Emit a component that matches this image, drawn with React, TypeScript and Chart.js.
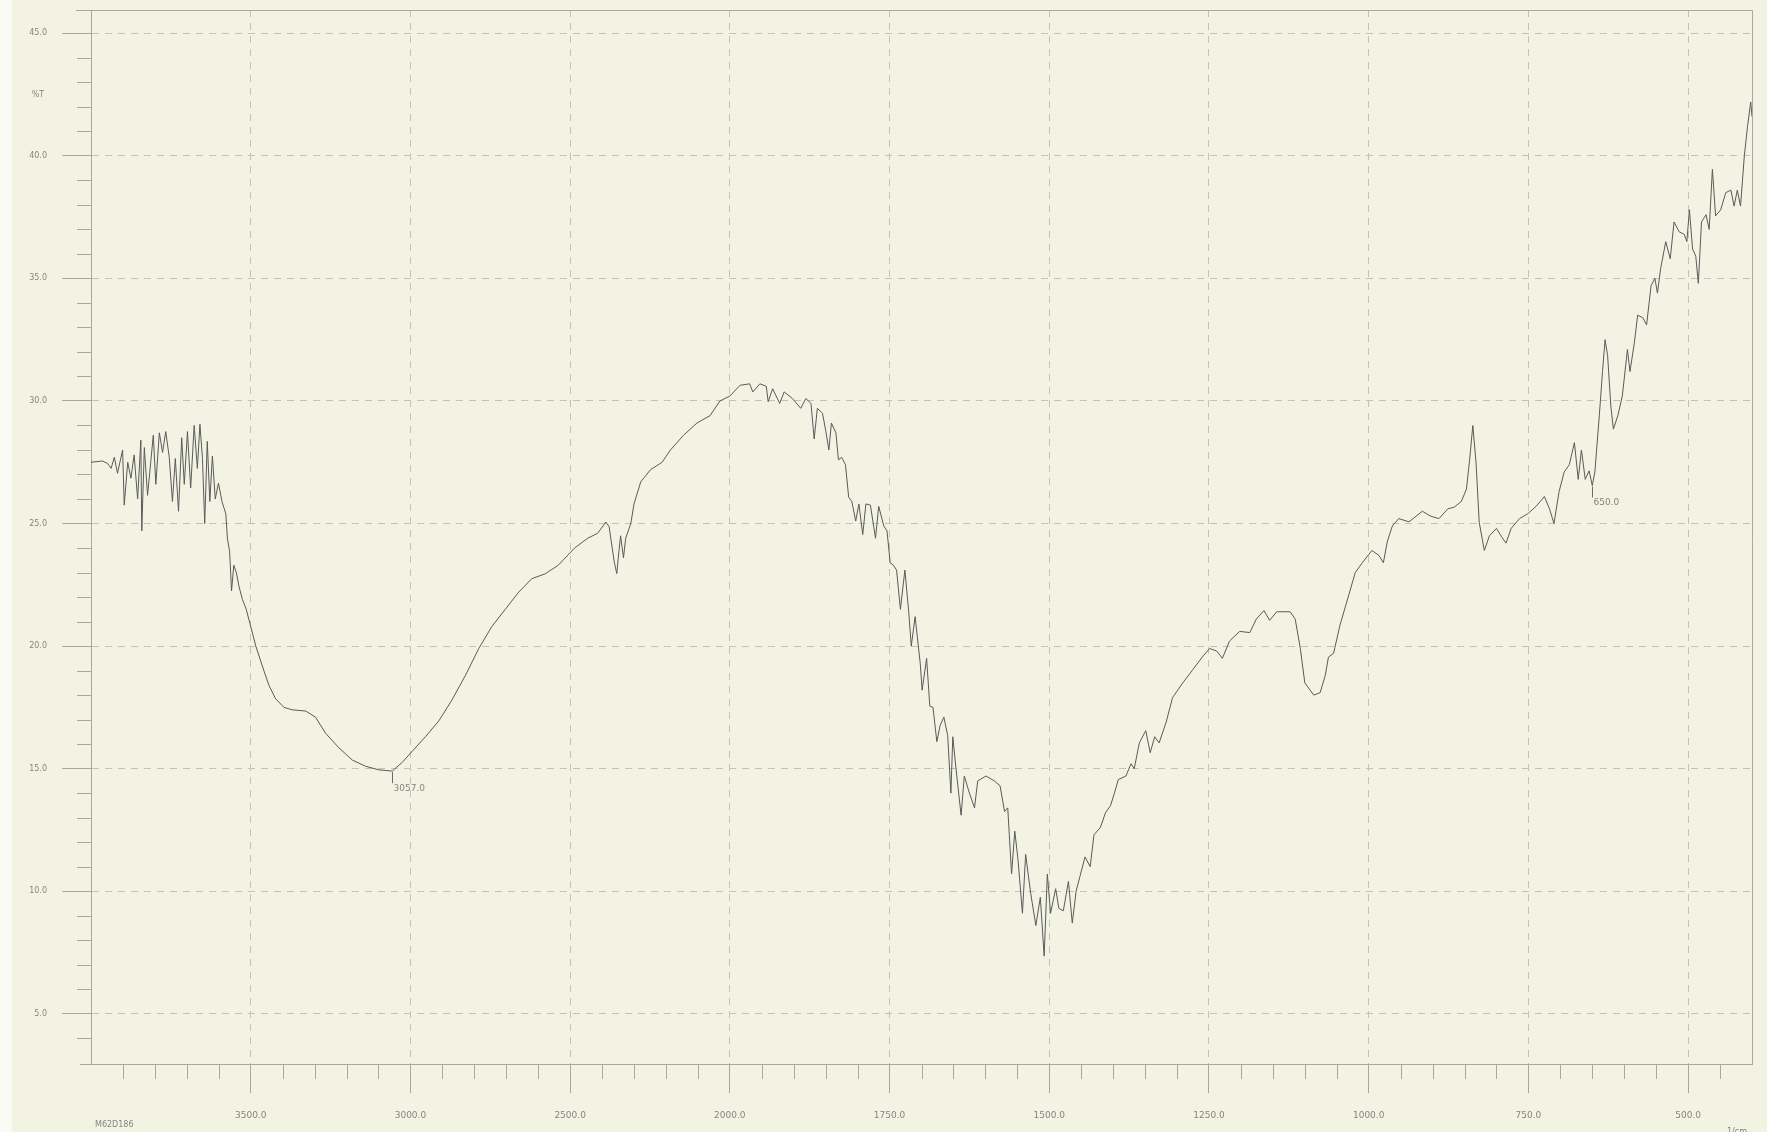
import React, { useEffect, useRef } from 'react';
import { Chart, LinearScale, LineController, LineElement, PointElement } from 'chart.js';

// ---- Data (wavenumber in 1/cm, transmittance in %T) ----
const WAVENUMBERS = [
  4000, 3964, 3948, 3937, 3927, 3917, 3901, 3896, 3885, 3875, 3865, 3854, 3844, 3841, 3833, 3823, 3813, 3805,
  3797, 3786, 3776, 3766, 3755, 3745, 3736, 3726, 3716, 3708, 3698, 3688, 3677, 3667, 3659, 3651, 3644, 3636,
  3628, 3620, 3611, 3601, 3590, 3578, 3573, 3566, 3560, 3553, 3545, 3537, 3526, 3514, 3500, 3484, 3464, 3443,
  3422, 3396, 3370, 3328, 3297, 3266, 3224, 3182, 3141, 3099, 3057, 3026, 2995, 2953, 2911, 2870, 2828, 2786,
  2745, 2703, 2661, 2620, 2578, 2537, 2486, 2445, 2414, 2388, 2378, 2362, 2354, 2347, 2342, 2333, 2326, 2310,
  2300, 2279, 2248, 2212, 2186, 2145, 2103, 2062, 2031, 2000, 1984, 1969, 1964, 1953, 1943, 1940, 1933, 1922,
  1915, 1902, 1889, 1881, 1873, 1868, 1863, 1855, 1850, 1845, 1841, 1834, 1830, 1825, 1819, 1814, 1809, 1803,
  1798, 1792, 1787, 1780, 1772, 1767, 1759, 1754, 1749, 1744, 1739, 1733, 1726, 1720, 1716, 1710, 1702, 1699,
  1692, 1687, 1682, 1676, 1671, 1665, 1659, 1654, 1651, 1646, 1638, 1633, 1625, 1617, 1612, 1599, 1586, 1577,
  1570, 1565, 1559, 1554, 1549, 1542, 1537, 1529, 1521, 1514, 1508, 1503, 1498, 1490, 1485, 1478, 1470, 1464,
  1458, 1452, 1444, 1436, 1430, 1420, 1412, 1404, 1398, 1392, 1380, 1372, 1367, 1359, 1349, 1342, 1335, 1328,
  1317, 1307, 1291, 1275, 1259, 1249, 1238, 1229, 1218, 1202, 1186, 1176, 1164, 1155, 1144, 1123, 1115, 1107,
  1100, 1086, 1076, 1068, 1063, 1055, 1045, 1031, 1021, 1010, 995, 984, 977, 971, 963, 953, 937, 916,
  903, 890, 876, 866, 855, 847, 842, 837, 832, 827, 819, 811, 800, 793, 785, 777, 764, 751,
  738, 725, 717, 710, 702, 694, 686, 678, 672, 667, 661, 655, 650, 646, 639, 634, 630, 626,
  621, 617, 610, 603, 595, 591, 584, 579, 571, 565, 558, 552, 548, 543, 535, 528, 522, 514,
  506, 502, 498, 493, 488, 484, 479, 472, 467, 462, 457, 449, 441, 433, 428, 423, 418, 412,
  407, 402, 400,
];
const TRANSMITTANCE = [
  27.5, 27.55, 27.45, 27.25, 27.7, 27.05, 28.0, 25.75, 27.5, 26.85, 27.8, 26.0, 28.4, 24.7, 28.1, 26.15, 27.5, 28.6,
  26.6, 28.7, 27.9, 28.75, 27.7, 25.9, 27.65, 25.5, 28.5, 26.6, 28.75, 26.45, 29.0, 27.25, 29.05, 27.65, 25.0, 28.35,
  25.9, 27.75, 26.0, 26.65, 25.9, 25.4, 24.4, 23.85, 22.25, 23.3, 23.0, 22.45, 21.9, 21.5, 20.8, 20.0, 19.2, 18.4,
  17.85, 17.5, 17.4, 17.35, 17.1, 16.45, 15.85, 15.35, 15.1, 14.95, 14.9, 15.25, 15.7, 16.3, 16.95, 17.8, 18.8, 19.9,
  20.8, 21.5, 22.2, 22.75, 22.95, 23.3, 24.0, 24.4, 24.6, 25.06, 24.87, 23.44, 22.96, 23.9, 24.5, 23.6, 24.4, 25.0,
  25.8, 26.7, 27.2, 27.5, 28.0, 28.6, 29.1, 29.4, 30.0, 30.2, 30.64, 30.7, 30.37, 30.7, 30.6, 29.97, 30.5, 29.9,
  30.37, 30.1, 29.7, 30.1, 29.9, 28.45, 29.7, 29.5, 28.8, 28.0, 29.1, 28.7, 27.6, 27.7, 27.4, 26.07, 25.9, 25.1,
  25.8, 24.55, 25.8, 25.75, 24.4, 25.7, 24.9, 24.7, 23.4, 23.3, 23.1, 21.5, 23.1, 21.4, 20.0, 21.2, 19.3, 18.2,
  19.5, 17.55, 17.5, 16.1, 16.75, 17.1, 16.35, 14.0, 16.3, 15.0, 13.1, 14.7, 14.0, 13.4, 14.5, 14.7, 14.5, 14.3,
  13.25, 13.4, 10.7, 12.45, 11.3, 9.1, 11.5, 9.9, 8.6, 9.75, 7.35, 10.7, 9.1, 10.1, 9.3, 9.2, 10.4, 8.7,
  10.0, 10.6, 11.4, 11.0, 12.3, 12.6, 13.2, 13.5, 14.0, 14.55, 14.7, 15.2, 15.0, 16.05, 16.55, 15.65, 16.3, 16.05,
  16.9, 17.9, 18.5, 19.05, 19.6, 19.9, 19.8, 19.5, 20.2, 20.6, 20.55, 21.1, 21.45, 21.05, 21.4, 21.4, 21.1, 19.9,
  18.5, 18.0, 18.1, 18.8, 19.55, 19.7, 20.85, 22.1, 23.0, 23.4, 23.9, 23.7, 23.4, 24.25, 24.9, 25.2, 25.07, 25.5,
  25.3, 25.2, 25.6, 25.67, 25.9, 26.4, 27.6, 29.0, 27.5, 25.05, 23.9, 24.5, 24.8, 24.5, 24.2, 24.8, 25.2, 25.4,
  25.7, 26.1, 25.6, 25.0, 26.3, 27.1, 27.4, 28.3, 26.8, 28.0, 26.8, 27.15, 26.55, 27.1, 29.4, 31.2, 32.5, 31.85,
  29.8, 28.85, 29.4, 30.2, 32.1, 31.2, 32.4, 33.5, 33.4, 33.1, 34.7, 35.0, 34.4, 35.4, 36.5, 35.8, 37.3, 36.9,
  36.8, 36.5, 37.8, 36.2, 35.9, 34.8, 37.3, 37.6, 37.0, 39.45, 37.55, 37.8, 38.5, 38.6, 37.95, 38.6, 37.95, 40.0,
  41.2, 42.2, 41.6,
];

const X_TICKS = [3500, 3000, 2500, 2000, 1750, 1500, 1250, 1000, 750, 500];
const X_MINOR = [
  3900, 3800, 3700, 3600, 3400, 3300, 3200, 3100, 2900, 2800, 2700, 2600, 2400, 2300, 2200, 2100,
  1950, 1900, 1850, 1800, 1700, 1650, 1600, 1550, 1450, 1400, 1350, 1300, 1200, 1150, 1100, 1050,
  950, 900, 850, 800, 700, 650, 600, 550, 450,
];
const Y_TICKS = [5, 10, 15, 20, 25, 30, 35, 40, 45];
const Y_MINOR = [4, 6, 7, 8, 9, 11, 12, 13, 14, 16, 17, 18, 19, 21, 22, 23, 24, 26, 27, 28, 29, 31, 32, 33, 34, 36, 37, 38, 39, 41, 42, 43, 44];

const PEAK_WAVENUMBERS = [3057, 650];
const PEAK_VALUES = [14.9, 26.55];
const PEAK_LABELS = ['3057.0', '650.0'];

const X_MIN = 400;
const X_MAX = 4000;
const X_BREAK = 2000; // scale doubles below 2000 1/cm
const Y_MIN = 2.95;
const Y_MAX = 45.95;

const PAPER = '#f3f3e4';
const AXIS = '#a8a8a1';
const GRID = '#c2c2b8';
const TEXT = '#85857f';
const TRACE = '#5a5a5a';
const FONT = "'DejaVu Sans', sans-serif";

// Piecewise-linear IR wavenumber scale (4000..2000 at one density, 2000..400 at double).
class IrScale extends LinearScale {
  static id = 'irscale';
  static defaults = {};
  uOf(v: number) {
    const max = this.max;
    return v >= X_BREAK ? max - v : (max - X_BREAK) + (X_BREAK - v) * 2;
  }
  getPixelForValue(value: number) {
    if (value === null || value === undefined || isNaN(value)) return NaN;
    const total = this.uOf(this.min);
    return this.getPixelForDecimal(this.uOf(value) / total);
  }
  getValueForPixel(pixel: number) {
    const d = (pixel - (this as any)._startPixel) / (this as any)._length;
    const u = d * this.uOf(this.min);
    const brk = this.max - X_BREAK;
    return u <= brk ? this.max - u : X_BREAK - (u - brk) / 2;
  }
}

Chart.register(LineController, LineElement, PointElement, LinearScale, IrScale as any);

const paperPlugin = {
  id: 'paper',
  beforeDraw(chart: any) {
    const { ctx, width, height } = chart;
    ctx.save();
    ctx.fillStyle = '#fbfbf6';
    ctx.fillRect(0, 0, width, height);
    ctx.fillStyle = PAPER;
    ctx.fillRect(12, 0, width - 12, height);
    ctx.restore();
  },
};

const decorPlugin = {
  id: 'decor',
  afterDraw(chart: any) {
    const { ctx, chartArea } = chart;
    const xs = chart.scales.x;
    const ys = chart.scales.y;
    const { left, right, top, bottom } = chartArea;
    ctx.save();
    ctx.strokeStyle = AXIS;
    ctx.lineWidth = 1;
    ctx.beginPath();
    // frame: top, right, bottom extension
    ctx.moveTo(76, top + 0.5);
    ctx.lineTo(right + 0.5, top + 0.5);
    ctx.lineTo(right + 0.5, bottom + 0.5);
    ctx.moveTo(80, bottom + 0.5);
    ctx.lineTo(left, bottom + 0.5);
    // minor ticks
    X_MINOR.forEach((v) => {
      const px = Math.round(xs.getPixelForValue(v)) + 0.5;
      ctx.moveTo(px, bottom);
      ctx.lineTo(px, bottom + 15);
    });
    Y_MINOR.forEach((v) => {
      const py = Math.round(ys.getPixelForValue(v)) + 0.5;
      ctx.moveTo(left - 14, py);
      ctx.lineTo(left, py);
    });
    ctx.stroke();

    // peak markers
    ctx.strokeStyle = '#6a6a66';
    ctx.fillStyle = TEXT;
    ctx.font = `9px ${FONT}`;
    ctx.textAlign = 'left';
    ctx.textBaseline = 'top';
    PEAK_WAVENUMBERS.forEach((w, i) => {
      const px = Math.round(xs.getPixelForValue(w)) + 0.5;
      const py = ys.getPixelForValue(PEAK_VALUES[i]);
      ctx.beginPath();
      ctx.moveTo(px, py + 1);
      ctx.lineTo(px, py + 12);
      ctx.stroke();
      ctx.fillText(PEAK_LABELS[i], px + 1, py + 13);
    });

    // axis captions
    ctx.font = `8px ${FONT}`;
    ctx.textAlign = 'center';
    ctx.textBaseline = 'middle';
    ctx.fillText('%T', 38, 95);
    ctx.textAlign = 'left';
    ctx.fillText('M62D186', 95, 1125);
    ctx.textBaseline = 'top';
    ctx.fillText('1/cm', 1727, 1128);
    ctx.restore();
  },
};

export default function App() {
  const canvasRef = useRef<HTMLCanvasElement | null>(null);

  useEffect(() => {
    const canvas = canvasRef.current;
    if (!canvas) return;
    const points = WAVENUMBERS.map((w, i) => ({ x: w, y: TRANSMITTANCE[i] }));
    const chart = new Chart(canvas, {
      type: 'line',
      data: {
        datasets: [
          {
            data: points,
            borderColor: TRACE,
            borderWidth: 1,
            pointRadius: 0,
            tension: 0,
            fill: false,
          },
        ],
      },
      options: {
        animation: false,
        responsive: false,
        events: [],
        layout: { padding: { left: 0, top: 10, right: 15, bottom: 0 } },
        plugins: { legend: { display: false }, tooltip: { enabled: false } } as any,
        scales: {
          x: {
            type: 'irscale' as any,
            min: X_MIN,
            max: X_MAX,
            position: 'bottom',
            afterBuildTicks: (s: any) => {
              s.ticks = X_TICKS.map((v) => ({ value: v }));
            },
            afterFit: (s: any) => {
              s.height = 68;
              s.paddingLeft = 0;
              s.paddingRight = 0;
              s.paddingTop = 0;
              s.paddingBottom = 0;
            },
            ticks: {
              autoSkip: false,
              maxRotation: 0,
              padding: 17,
              color: TEXT,
              font: { family: FONT, size: 9 },
              callback: (v: any) => Number(v).toFixed(1),
            },
            grid: {
              color: GRID,
              lineWidth: 1,
              drawOnChartArea: true,
              drawTicks: true,
              tickLength: 29,
              tickColor: AXIS,
              tickWidth: 1,
            },
            border: { display: true, color: AXIS, width: 1, dash: [7, 6] },
          } as any,
          y: {
            type: 'linear',
            min: Y_MIN,
            max: Y_MAX,
            position: 'left',
            afterBuildTicks: (s: any) => {
              s.ticks = Y_TICKS.map((v) => ({ value: v }));
            },
            afterFit: (s: any) => {
              s.width = 91;
              s.paddingLeft = 0;
              s.paddingRight = 0;
              s.paddingTop = 0;
              s.paddingBottom = 0;
            },
            ticks: {
              autoSkip: false,
              padding: 15,
              color: TEXT,
              font: { family: FONT, size: 8 },
              callback: (v: any) => Number(v).toFixed(1),
            },
            grid: {
              color: GRID,
              lineWidth: 1,
              drawOnChartArea: true,
              drawTicks: true,
              tickLength: 29,
              tickColor: AXIS,
              tickWidth: 1,
            },
            border: { display: true, color: AXIS, width: 1, dash: [7, 6] },
          } as any,
        },
      },
      plugins: [paperPlugin, decorPlugin],
    });
    return () => chart.destroy();
  }, []);

  return (
    <div style={{ position: 'absolute', left: 0, top: 0, width: 1767, height: 1132 }}>
      <canvas ref={canvasRef} width={1767} height={1132} style={{ display: 'block', width: 1767, height: 1132 }} />
    </div>
  );
}
